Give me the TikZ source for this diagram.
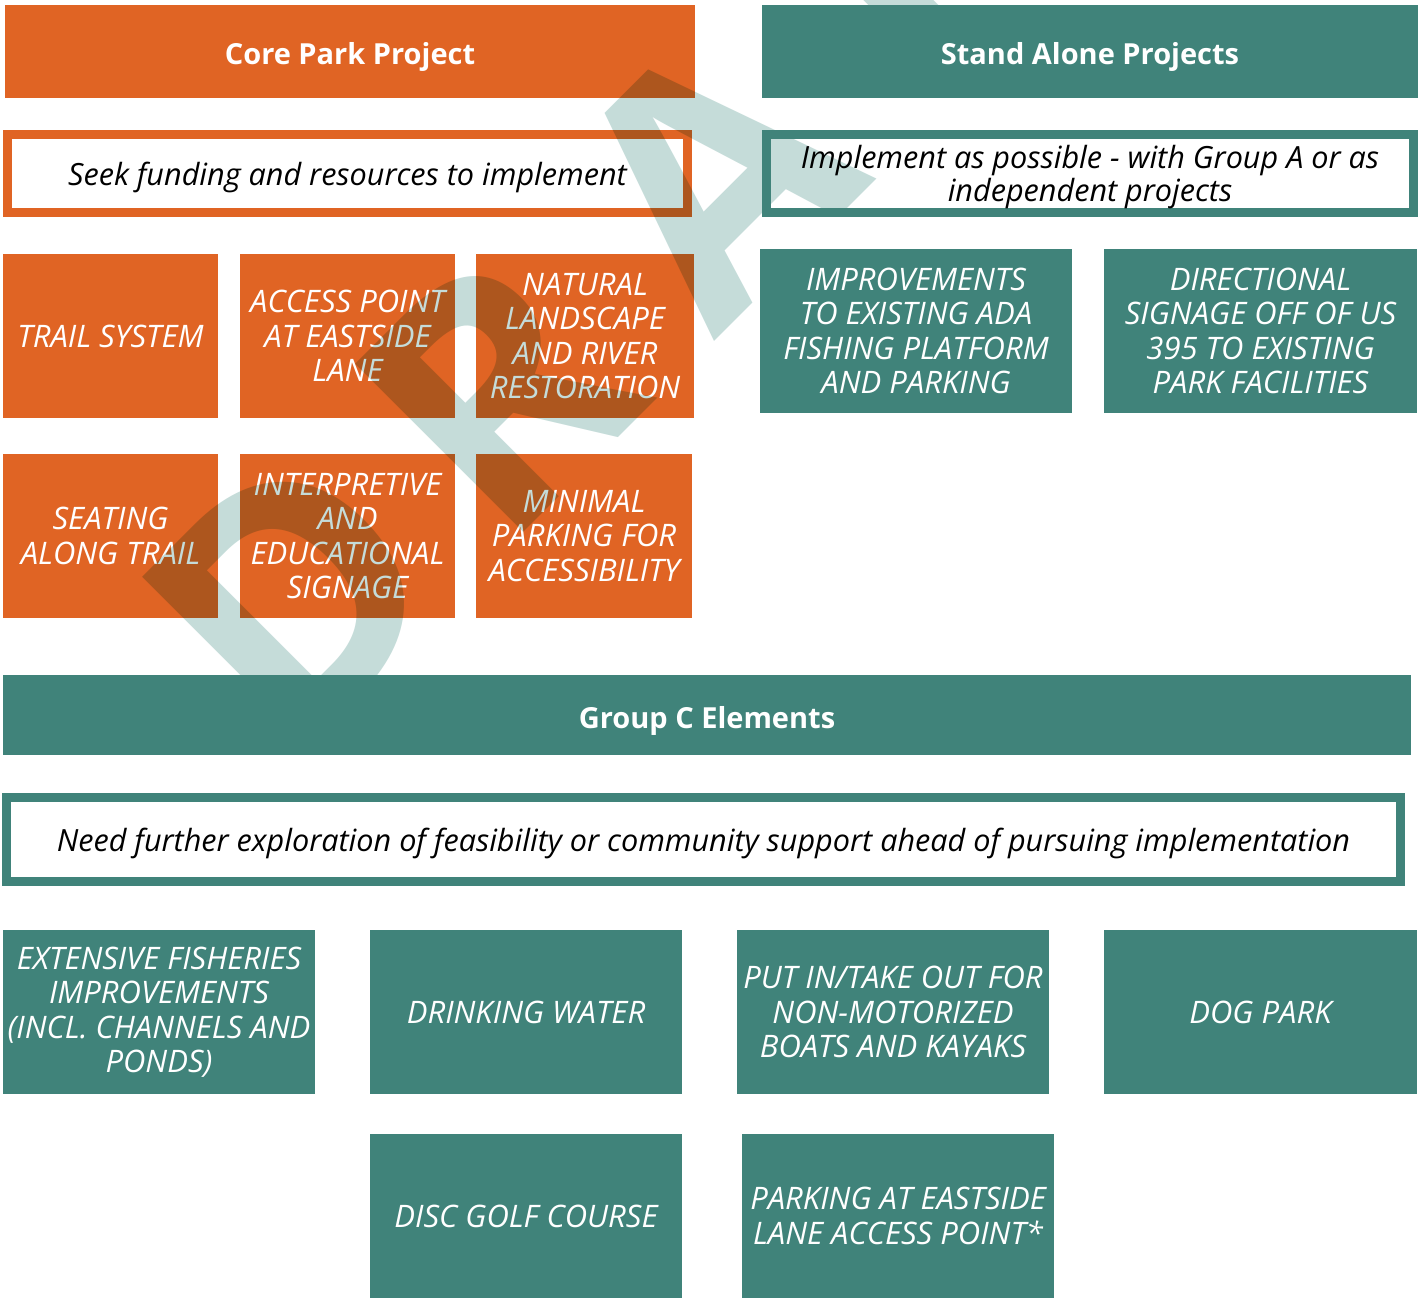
\documentclass[tikz,border=0pt]{standalone}
\usepackage{fontspec}
\setmainfont{Open Sans}
\newfontfamily\boxfont{Open Sans}
\newfontfamily\wmfont{Open Sans}
\definecolor{orng}{HTML}{E06424}
\definecolor{tealc}{HTML}{40837A}
\definecolor{wmark}{HTML}{C5DCD9}
\begin{document}
\begin{tikzpicture}[x=1pt,y=-1pt,
  obox/.style={fill=orng, text=white, font=\boxfont\itshape\fontsize{31}{34.5}\selectfont, align=center, inner sep=0pt, minimum height=164pt},
  tbox/.style={obox, fill=tealc},
  ohead/.style={fill=orng, text=white, font=\bfseries\fontsize{29}{34}\selectfont, inner sep=0pt, text height=27pt, text depth=0pt},
  thead/.style={ohead, fill=tealc},
  oframe/.style={draw=orng, line width=9pt, text=black, font=\itshape\fontsize{30.6}{33}\selectfont, align=center, inner sep=0pt, text depth=0pt},
  tframe/.style={oframe, draw=tealc},
  wmletter/.style={rotate=45, anchor=base west, inner sep=0pt, text=wmark, font=\wmfont\bfseries\fontsize{333}{333}\selectfont},
]
\useasboundingbox (0,0) rectangle (1421,1305);
\fill[white] (0,0) rectangle (1421,1305);
\clip (0,0) rectangle (1421,1305);

% orange group
\node[ohead, minimum width=690pt, minimum height=93pt] (core) at (350,51.5) {Core Park Project};
\node[oframe, minimum width=680pt, minimum height=78pt] (seek) at (347.5,173.5) {Seek funding and resources to implement};
\node[obox, minimum width=215pt] (trail) at (110.5,336) {TRAIL SYSTEM};
\node[obox, minimum width=215pt] (access) at (347.5,336) {ACCESS POINT\\AT EASTSIDE\\LANE};
\node[obox, minimum width=218pt] (natural) at (585,336) {NATURAL\\LANDSCAPE\\AND RIVER\\RESTORATION};
\node[obox, minimum width=215pt] (seating) at (110.5,536) {SEATING\\ALONG TRAIL};
\node[obox, minimum width=215pt] (interp) at (347.5,536) {INTERPRETIVE\\AND\\EDUCATIONAL\\SIGNAGE};
\node[obox, minimum width=216pt] (minimal) at (584,536) {MINIMAL\\PARKING FOR\\ACCESSIBILITY};

% watermark (letters placed along a 45 degree baseline)
\begin{scope}[blend mode=multiply]
\node[wmletter] (wmD) at (289.8,766.2) {D};
\node[wmletter] (wmR) at (501.9,554.1) {R};
\node[wmletter] (wmA) at (714.1,341.9) {A};
\node[wmletter] (wmF) at (938.2,117.8) {F};
\node[wmletter] (wmT) at (1112.1,-56.1) {T};
\end{scope}

% teal group
\node[thead, minimum width=656pt, minimum height=93pt] (stand) at (1090,51.5) {Stand Alone Projects};
\node[tframe, minimum width=647pt, minimum height=78pt] (impl) at (1090,173.5) {Implement as possible - with Group A or as\\independent projects};
\node[tbox, minimum width=312pt] (improv) at (916,331) {IMPROVEMENTS\\TO EXISTING ADA\\FISHING PLATFORM\\AND PARKING};
\node[tbox, minimum width=313pt] (direct) at (1260.5,331) {DIRECTIONAL\\SIGNAGE OFF OF US\\395 TO EXISTING\\PARK FACILITIES};
\node[thead, minimum width=1408pt, minimum height=80pt] (groupc) at (707,715) {Group C Elements};
\node[tframe, minimum width=1394pt, minimum height=84pt] (need) at (703.5,839.5) {Need further exploration of feasibility or community support ahead of pursuing implementation};
\node[tbox, minimum width=312pt] (ext) at (159,1012) {EXTENSIVE FISHERIES\\IMPROVEMENTS\\(INCL. CHANNELS AND\\PONDS)};
\node[tbox, minimum width=312pt] (drink) at (526,1012) {DRINKING WATER};
\node[tbox, minimum width=312pt] (put) at (893,1012) {PUT IN/TAKE OUT FOR\\NON-MOTORIZED\\BOATS AND KAYAKS};
\node[tbox, minimum width=313pt] (dog) at (1260.5,1012) {DOG PARK};
\node[tbox, minimum width=312pt] (disc) at (526,1216) {DISC GOLF COURSE};
\node[tbox, minimum width=312pt] (parkacc) at (898,1216) {PARKING AT EASTSIDE\\LANE ACCESS POINT*};
\end{tikzpicture}
\end{document}
